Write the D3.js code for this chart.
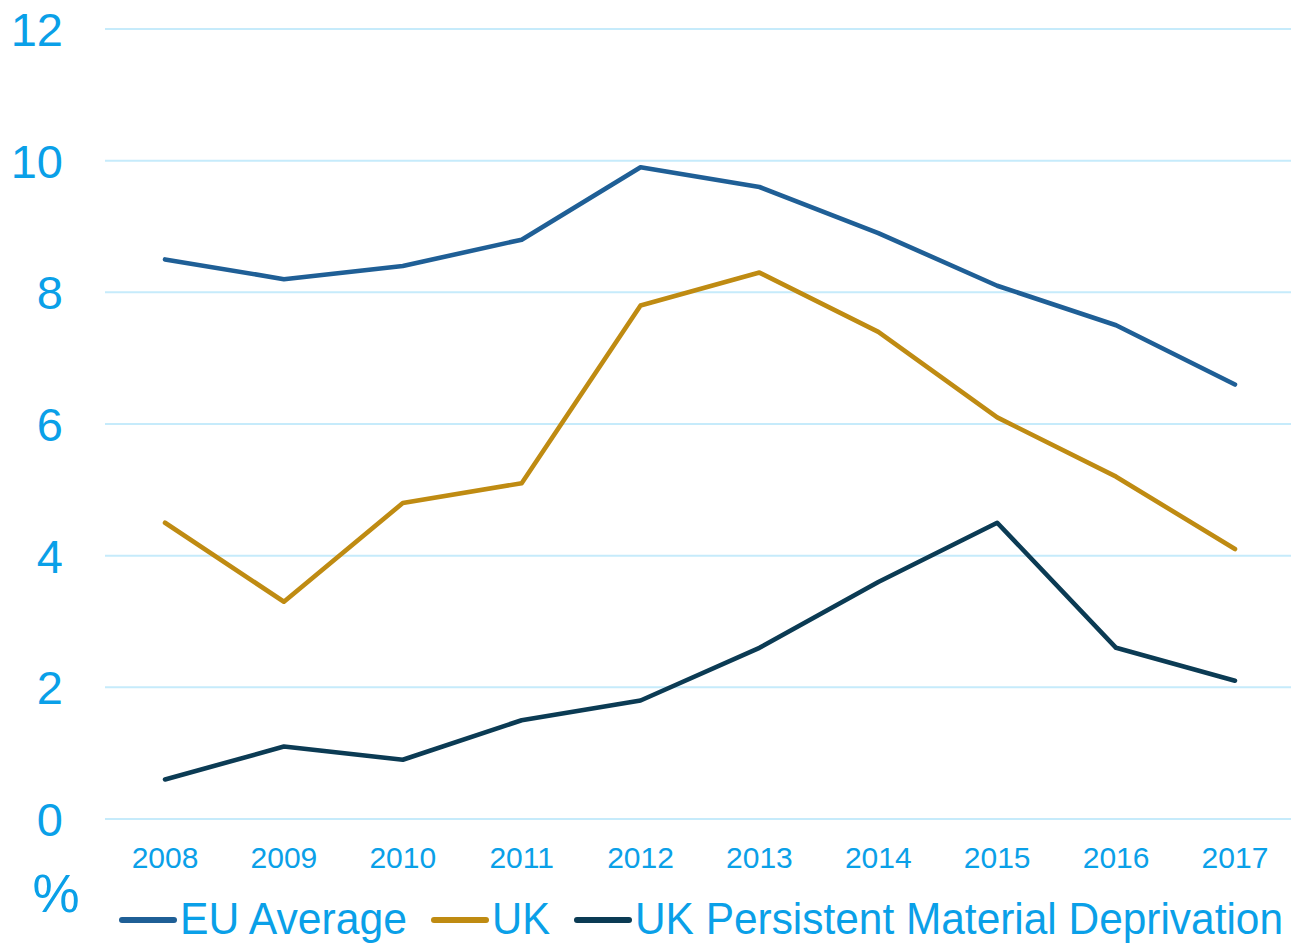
<!DOCTYPE html>
<html>
<head>
<meta charset="utf-8">
<script src="https://cdn.jsdelivr.net/npm/d3@7"></script>
<style>
  body { margin: 0; background: #fff; }
  svg { display: block; font-family: "Liberation Sans", Arial, sans-serif; }
</style>
</head>
<body>
<svg id="chart"></svg>
<script>
const width = 1291;
const height = 943;

// data
const years = ["2008", "2009", "2010", "2011", "2012", "2013", "2014", "2015", "2016", "2017"];
const euAverage = [8.5, 8.2, 8.4, 8.8, 9.9, 9.6, 8.9, 8.1, 7.5, 6.6];
const uk = [4.5, 3.3, 4.8, 5.1, 7.8, 8.3, 7.4, 6.1, 5.2, 4.1];
const ukPersistent = [0.6, 1.1, 0.9, 1.5, 1.8, 2.6, 3.6, 4.5, 2.6, 2.1];
const yTicks = [0, 2, 4, 6, 8, 10, 12];
const seriesNames = ["EU Average", "UK", "UK Persistent Material Deprivation"];
const seriesColors = ["#1f5f96", "#bf8b12", "#0b3b54"];

const textColor = "#0aa0e8";
const gridColor = "#c6ebfb";

const svg = d3.select("#chart")
    .attr("width", width)
    .attr("height", height);

const x = d3.scalePoint()
    .domain(years)
    .range([105.6, 1294.4])
    .padding(0.5);

const y = d3.scaleLinear()
    .domain([0, 12])
    .range([819, 29]);

// gridlines
svg.append("g")
    .selectAll("line")
    .data(yTicks)
    .join("line")
    .attr("x1", 105)
    .attr("x2", width)
    .attr("y1", d => y(d))
    .attr("y2", d => y(d))
    .attr("stroke", gridColor)
    .attr("stroke-width", 2);

// y axis labels
svg.append("g")
    .selectAll("text")
    .data(yTicks)
    .join("text")
    .attr("x", 63)
    .attr("y", d => y(d) + 17)
    .attr("text-anchor", "end")
    .attr("font-size", 47)
    .attr("fill", textColor)
    .text(d => d);

// x axis labels
svg.append("g")
    .selectAll("text")
    .data(years)
    .join("text")
    .attr("x", d => x(d))
    .attr("y", 868)
    .attr("text-anchor", "middle")
    .attr("font-size", 30)
    .attr("fill", textColor)
    .text(d => d);

// unit label
svg.append("text")
    .attr("x", 56)
    .attr("y", 912)
    .attr("text-anchor", "middle")
    .attr("font-size", 53)
    .attr("fill", textColor)
    .text("%");

// lines
const series = [euAverage, uk, ukPersistent];
const line = d3.line()
    .x((d, i) => x(years[i]))
    .y(d => y(d));

svg.append("g")
    .selectAll("path")
    .data(series)
    .join("path")
    .attr("d", line)
    .attr("fill", "none")
    .attr("stroke", (d, i) => seriesColors[i])
    .attr("stroke-width", 4.6)
    .attr("stroke-linejoin", "round")
    .attr("stroke-linecap", "round");

// legend
const legendTextWidths = [227, 58, 648];
const legend = svg.append("g");
let lx = 122;
seriesNames.forEach((name, i) => {
    legend.append("line")
        .attr("x1", lx)
        .attr("x2", lx + 52)
        .attr("y1", 920)
        .attr("y2", 920)
        .attr("stroke", seriesColors[i])
        .attr("stroke-width", 6)
        .attr("stroke-linecap", "round");
    legend.append("text")
        .attr("x", lx + 58)
        .attr("y", 934)
        .attr("font-size", 44)
        .attr("fill", textColor)
        .attr("textLength", legendTextWidths[i])
        .attr("lengthAdjust", "spacingAndGlyphs")
        .text(name);
    lx += 58 + legendTextWidths[i] + 27;
});
</script>
</body>
</html>
